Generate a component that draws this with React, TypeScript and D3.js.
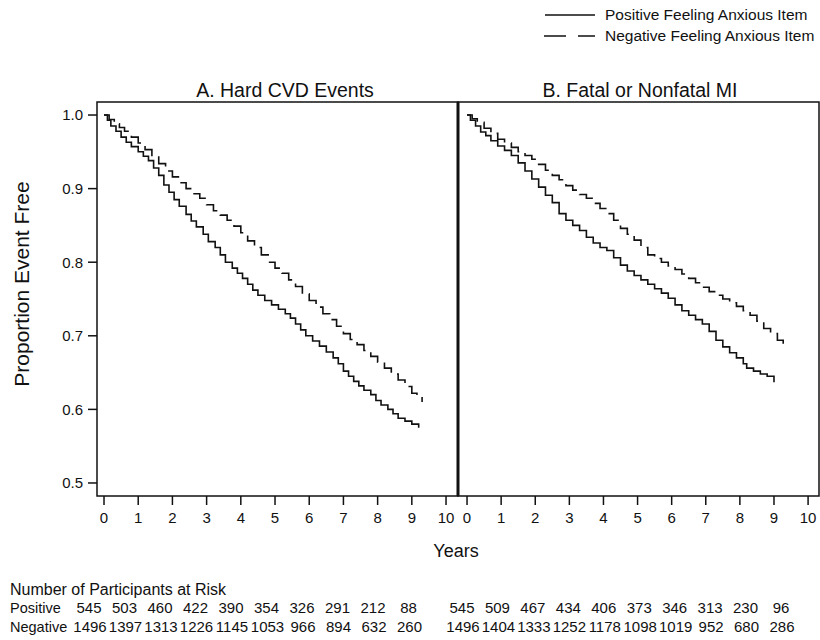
import React from "react";
import * as d3 from "d3";

// ---- data (years, proportion event free) ----
const hardPositive: [number, number][] = [
  [0, 1.0], [0.1, 0.993], [0.2, 0.985], [0.35, 0.978], [0.5, 0.97], [0.65, 0.963], [0.8, 0.957],
  [1.0, 0.95], [1.15, 0.944], [1.3, 0.938], [1.45, 0.928], [1.6, 0.918], [1.75, 0.905], [1.9, 0.895],
  [2.05, 0.885], [2.2, 0.876], [2.4, 0.865], [2.55, 0.856], [2.7, 0.848], [2.9, 0.838], [3.05, 0.828],
  [3.25, 0.82], [3.4, 0.81], [3.55, 0.8], [3.75, 0.792], [3.9, 0.785], [4.05, 0.778], [4.2, 0.77],
  [4.35, 0.762], [4.5, 0.755], [4.7, 0.748], [4.9, 0.742], [5.1, 0.736], [5.3, 0.73], [5.45, 0.724],
  [5.6, 0.716], [5.75, 0.708], [5.9, 0.7], [6.1, 0.693], [6.3, 0.686], [6.5, 0.678], [6.7, 0.67],
  [6.85, 0.662], [7.0, 0.652], [7.15, 0.645], [7.3, 0.638], [7.45, 0.632], [7.6, 0.626], [7.8, 0.62],
  [7.95, 0.612], [8.1, 0.606], [8.3, 0.6], [8.45, 0.594], [8.6, 0.588], [8.8, 0.584], [9.0, 0.58],
  [9.2, 0.575],
];
const hardNegative: [number, number][] = [
  [0, 1.0], [0.15, 0.994], [0.3, 0.988], [0.45, 0.983], [0.6, 0.978], [0.8, 0.97], [1.0, 0.962],
  [1.2, 0.953], [1.4, 0.944], [1.6, 0.934], [1.8, 0.924], [2.0, 0.916], [2.2, 0.908], [2.4, 0.9],
  [2.6, 0.893], [2.8, 0.887], [3.0, 0.878], [3.2, 0.87], [3.4, 0.864], [3.6, 0.857], [3.8, 0.849],
  [4.0, 0.84], [4.2, 0.829], [4.4, 0.82], [4.6, 0.81], [4.8, 0.8], [5.0, 0.792], [5.2, 0.785],
  [5.4, 0.776], [5.6, 0.767], [5.8, 0.757], [6.0, 0.748], [6.2, 0.739], [6.4, 0.73], [6.6, 0.722],
  [6.8, 0.713], [7.0, 0.703], [7.2, 0.695], [7.4, 0.688], [7.6, 0.68], [7.8, 0.672], [8.0, 0.664],
  [8.2, 0.656], [8.4, 0.648], [8.6, 0.64], [8.8, 0.631], [9.0, 0.622], [9.15, 0.618], [9.3, 0.61],
];
const miPositive: [number, number][] = [
  [0, 1.0], [0.1, 0.993], [0.25, 0.985], [0.4, 0.977], [0.55, 0.972], [0.7, 0.965], [0.9, 0.958],
  [1.1, 0.952], [1.3, 0.945], [1.5, 0.935], [1.7, 0.924], [1.9, 0.913], [2.1, 0.902], [2.3, 0.891],
  [2.5, 0.881], [2.7, 0.866], [2.9, 0.857], [3.1, 0.85], [3.3, 0.843], [3.5, 0.834], [3.7, 0.826],
  [3.9, 0.82], [4.1, 0.816], [4.3, 0.806], [4.5, 0.796], [4.7, 0.788], [4.9, 0.782], [5.1, 0.776],
  [5.3, 0.77], [5.5, 0.764], [5.7, 0.758], [5.9, 0.751], [6.1, 0.742], [6.3, 0.734], [6.5, 0.728],
  [6.7, 0.722], [6.9, 0.716], [7.1, 0.706], [7.3, 0.694], [7.5, 0.685], [7.7, 0.677], [7.9, 0.67],
  [8.1, 0.662], [8.2, 0.656], [8.4, 0.652], [8.6, 0.648], [8.8, 0.645], [9.0, 0.637],
];
const miNegative: [number, number][] = [
  [0, 1.0], [0.15, 0.995], [0.3, 0.99], [0.5, 0.982], [0.7, 0.975], [0.9, 0.967], [1.1, 0.962],
  [1.3, 0.956], [1.5, 0.95], [1.7, 0.945], [1.9, 0.94], [2.1, 0.933], [2.3, 0.925], [2.5, 0.918],
  [2.7, 0.912], [2.9, 0.904], [3.1, 0.898], [3.3, 0.892], [3.5, 0.887], [3.7, 0.88], [3.9, 0.873],
  [4.1, 0.866], [4.3, 0.857], [4.5, 0.846], [4.7, 0.838], [4.9, 0.83], [5.1, 0.82], [5.3, 0.81],
  [5.5, 0.805], [5.7, 0.8], [5.9, 0.795], [6.1, 0.79], [6.3, 0.784], [6.5, 0.778], [6.7, 0.772],
  [6.9, 0.766], [7.1, 0.76], [7.3, 0.755], [7.5, 0.75], [7.7, 0.745], [7.9, 0.74], [8.1, 0.734],
  [8.3, 0.728], [8.5, 0.72], [8.7, 0.71], [8.9, 0.703], [9.1, 0.694], [9.27, 0.683],
];

const xTicks = [0, 1, 2, 3, 4, 5, 6, 7, 8, 9, 10];
const yTicks = [0.5, 0.6, 0.7, 0.8, 0.9, 1.0];
const panelTitles = ["A. Hard CVD Events", "B. Fatal or Nonfatal MI"];
const legendLabels = ["Positive Feeling Anxious Item", "Negative Feeling Anxious Item"];
const riskRowLabels = ["Positive", "Negative"];
const riskHardPositive = [545, 503, 460, 422, 390, 354, 326, 291, 212, 88];
const riskHardNegative = [1496, 1397, 1313, 1226, 1145, 1053, 966, 894, 632, 260];
const riskMiPositive = [545, 509, 467, 434, 406, 373, 346, 313, 230, 96];
const riskMiNegative = [1496, 1404, 1333, 1252, 1178, 1098, 1019, 952, 680, 286];

const FONT = "'Liberation Sans', Arial, Helvetica, sans-serif";
const INK = "#111";
const DASH = "17,7";

const TOP = 102;
const BOTTOM = 496;

type PanelCfg = {
  left: number;
  right: number;
  domain: [number, number];
  title: string;
  titleX: number;
  pos: [number, number][];
  neg: [number, number][];
  riskPos: number[];
  riskNeg: number[];
  riskRange: [number, number];
};

const panels: PanelCfg[] = [
  {
    left: 97, right: 458, domain: [-0.205, 10.35], title: panelTitles[0], titleX: 285,
    pos: hardPositive, neg: hardNegative, riskPos: riskHardPositive, riskNeg: riskHardNegative,
    riskRange: [89, 408.5],
  },
  {
    left: 458, right: 819, domain: [-0.265, 10.32], title: panelTitles[1], titleX: 640,
    pos: miPositive, neg: miNegative, riskPos: riskMiPositive, riskNeg: riskMiNegative,
    riskRange: [462, 781],
  },
];

export default function App() {
  const y = d3.scaleLinear().domain([0.4823, 1.0177]).range([BOTTOM, TOP]);

  return (
    <svg width={820} height={640} style={{ position: "absolute", left: 0, top: 0, background: "#fff" }}
      fontFamily={FONT}>
      <rect x={0} y={0} width={820} height={640} fill="#fff" />

      {/* legend */}
      <g>
        <line x1={545} x2={595} y1={15} y2={15} stroke={INK} strokeWidth={1.5} />
        <text x={605} y={20} fontSize={15.5} fill={INK}>{legendLabels[0]}</text>
        <line x1={544} x2={595} y1={36} y2={36} stroke={INK} strokeWidth={1.5} strokeDasharray="22,12" />
        <text x={605} y={41} fontSize={15.5} fill={INK}>{legendLabels[1]}</text>
      </g>

      {panels.map((p, pi) => {
        const x = d3.scaleLinear().domain(p.domain).range([p.left, p.right]);
        const line = d3.line<[number, number]>()
          .x((d) => x(d[0]))
          .y((d) => y(d[1]))
          .curve(d3.curveStepAfter);
        const riskX = d3.scaleLinear().domain([0, 9]).range(p.riskRange);
        return (
          <g key={pi}>
            <text x={p.titleX} y={97} fontSize={19.5} textAnchor="middle" fill={INK}>
              {p.title}
            </text>
            <rect x={p.left} y={TOP} width={p.right - p.left} height={BOTTOM - TOP}
              fill="none" stroke={INK} strokeWidth={1.5} />
            <path d={line(p.pos) || ""} fill="none" stroke={INK} strokeWidth={1.6} />
            <path d={line(p.neg) || ""} fill="none" stroke={INK} strokeWidth={1.6}
              strokeDasharray={DASH} />
            {xTicks.map((t) => (
              <g key={t} transform={`translate(${x(t)},${BOTTOM})`}>
                <line y1={0} y2={9} stroke={INK} strokeWidth={1.5} />
                <text y={27} fontSize={15} textAnchor="middle" fill={INK}>{t}</text>
              </g>
            ))}
            {/* risk table */}
            {p.riskPos.map((v, i) => (
              <text key={"p" + i} x={riskX(i)} y={613} fontSize={15} textAnchor="middle" fill={INK}>{v}</text>
            ))}
            {p.riskNeg.map((v, i) => (
              <text key={"n" + i} x={riskX(i) + 1} y={632} fontSize={15} textAnchor="middle" fill={INK}>{v}</text>
            ))}
          </g>
        );
      })}

      {/* thick divider between panels */}
      <line x1={458} x2={458} y1={TOP} y2={BOTTOM} stroke={INK} strokeWidth={3} />

      {/* y axis */}
      {yTicks.map((v) => (
        <g key={v} transform={`translate(97,${y(v)})`}>
          <line x1={-9} x2={0} stroke={INK} strokeWidth={1.5} />
          <text x={-14} dy="0.36em" fontSize={15} textAnchor="end" fill={INK}>{v.toFixed(1)}</text>
        </g>
      ))}
      <text transform="translate(29,284) rotate(-90)" fontSize={21} textAnchor="middle" fill={INK}>
        Proportion Event Free
      </text>
      <text x={456} y={557} fontSize={18} textAnchor="middle" fill={INK}>Years</text>

      {/* risk table labels */}
      <text x={10} y={595} fontSize={16} fill={INK}>Number of Participants at Risk</text>
      <text x={10} y={613} fontSize={14.5} fill={INK}>{riskRowLabels[0]}</text>
      <text x={10} y={632} fontSize={14.5} fill={INK}>{riskRowLabels[1]}</text>
    </svg>
  );
}
